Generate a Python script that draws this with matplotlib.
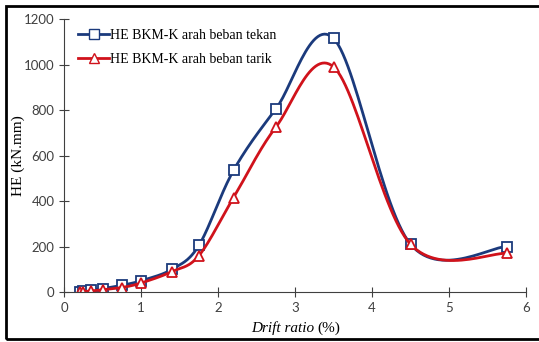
import numpy as np
import matplotlib
matplotlib.use("Agg")
import matplotlib.pyplot as plt
from matplotlib.patches import Rectangle
from matplotlib.lines import Line2D

# data
drift = [0.2, 0.25, 0.35, 0.5, 0.75, 1.0, 1.4, 1.75, 2.2, 2.75, 3.5, 4.5, 5.75]
he_tekan = [2, 3, 8, 15, 30, 50, 100, 205, 535, 805, 1115, 210, 200]
he_tarik = [1, 2, 5, 10, 20, 40, 90, 160, 415, 725, 990, 210, 170]
labels = ["HE BKM-K arah beban tekan", "HE BKM-K arah beban tarik"]
xticks = [0, 1, 2, 3, 4, 5, 6]
yticks = [0, 200, 400, 600, 800, 1000, 1200]

blue = "#1B3A7C"
red = "#D0121B"


def smooth(x, y, n=30):
    # excel-like smoothing: bezier with catmull-rom control points
    p = np.column_stack([x, y]).astype(float)
    p = np.vstack([p[0], p, p[-1]])
    out = []
    t = np.linspace(0, 1, n)[:, None]
    for i in range(1, len(p) - 2):
        p0, p1, p2, p3 = p[i - 1], p[i], p[i + 1], p[i + 2]
        c1 = p1 + (p2 - p0) / 6
        c2 = p2 - (p3 - p1) / 6
        seg = ((1 - t) ** 3) * p1 + 3 * ((1 - t) ** 2) * t * c1 + 3 * (1 - t) * t ** 2 * c2 + t ** 3 * p2
        out.append(seg)
    out = np.vstack(out)
    return out[:, 0], out[:, 1]


fig = plt.figure(figsize=(5.39, 3.42), dpi=100)
ax = fig.add_axes([0.119, 0.146, 0.857, 0.798])

for y, c, m, lab in [(he_tekan, blue, "s", labels[0]), (he_tarik, red, "^", labels[1])]:
    sx, sy = smooth(drift, y)
    ax.plot(sx, sy, color=c, lw=2)
    ax.plot(drift, y, ls="none", marker=m, ms=6.5, mfc="white", mec=c, mew=1.3)

ax.set_xlim(0, 6)
ax.set_ylim(0, 1200)
ax.set_xticks(xticks)
ax.set_yticks(yticks)
for s in ["top", "right"]:
    ax.spines[s].set_visible(False)
for s in ["left", "bottom"]:
    ax.spines[s].set_color("#404040")
ax.tick_params(direction="inout", length=7, color="#404040", labelcolor="#404040",
               labelsize=9.5)
for t in ax.get_xticklabels() + ax.get_yticklabels():
    t.set_family("Lato")

ax.set_ylabel("HE (kN.mm)", family="Liberation Serif", fontsize=11)
ax.yaxis.set_label_coords(-0.084, 0.5)
fig.text(0.584, 0.03, "Drift ratio", family="Liberation Serif", style="italic",
         fontsize=11, ha="right", va="baseline")
fig.text(0.588, 0.03, "(%)", family="Liberation Serif", fontsize=11, ha="left", va="baseline")

handles = [Line2D([], [], color=blue, lw=2, marker="s", ms=6.5, mfc="white", mec=blue),
           Line2D([], [], color=red, lw=2, marker="^", ms=6.5, mfc="white", mec=red)]
ax.legend(handles, labels, loc="upper left", bbox_to_anchor=(0.01, 1.0), frameon=False,
          prop={"family": "Liberation Serif", "size": 10}, handlelength=2.2,
          handletextpad=0.1, labelspacing=0.8, borderaxespad=0.3)

fig.patches.append(Rectangle((0.011, 0.009), 1.2, 0.974, transform=fig.transFigure,
                             fill=False, ec="black", lw=2))

fig.savefig("out.png", dpi=100)
